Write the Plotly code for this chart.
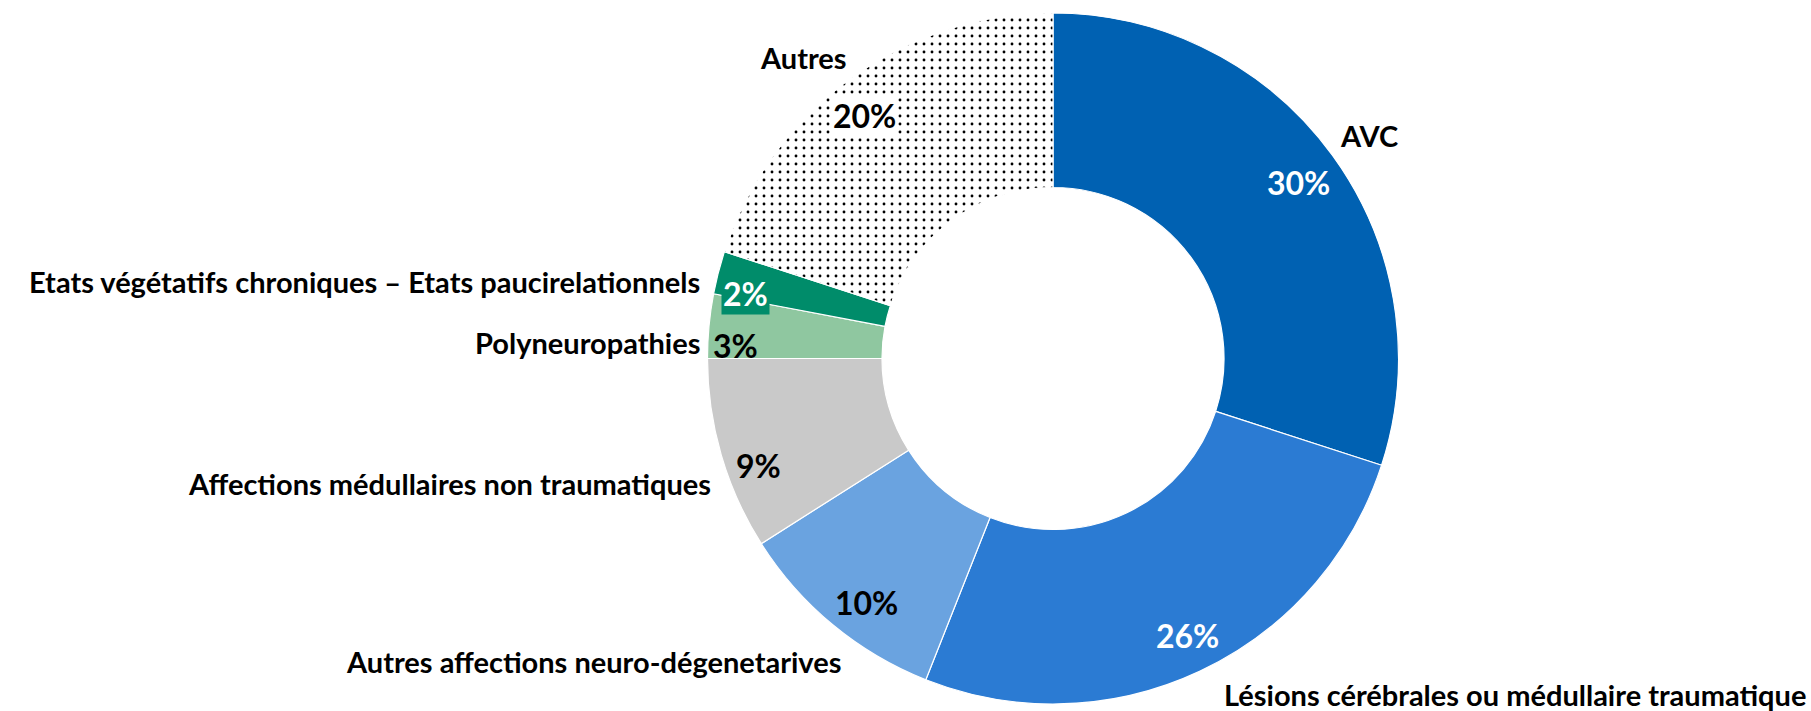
import plotly.graph_objects as go

# ---- data ----
categories = [
    "AVC",
    "Lésions cérébrales ou médullaire traumatique",
    "Autres affections neuro-dégenetarives",
    "Affections médullaires non traumatiques",
    "Polyneuropathies",
    "Etats végétatifs chroniques – Etats paucirelationnels",
    "Autres",
]
values = [30, 26, 10, 9, 3, 2, 20]

# ---- style ----
colors = ["#0061B2", "#2B7BD3", "#6AA3E0", "#C9C9C9", "#8FC7A0", "#008C6A", "#FFFFFF"]
pattern_shapes = ["", "", "", "", "", "", "."]
pct_colors = ["white", "white", "black", "black", "black", "white", "black"]
pct_bg = [None, None, None, None, None, "#008C6A", "white"]

W, H = 1811, 711
FONT = "Lato"

# label positions (pixels) and anchors
name_pos = [(1369, 136, "center"), (1808, 694, "right"), (843, 661, "right"),
            (713, 483, "right"), (702, 342, "right"), (702, 281, "right"), (803, 58, "center")]
pct_pos = [(1298, 182), (1187, 635), (866, 602), (758, 465), (735, 345), (745, 293), (864, 116)]

cx, cy, r = 1053, 358.5, 345.5

fig = go.Figure(go.Pie(
    labels=categories,
    values=values,
    hole=0.495,
    sort=False,
    direction="clockwise",
    rotation=0,
    textinfo="none",
    hoverinfo="label+percent",
    marker=dict(
        colors=colors,
        line=dict(color="white", width=1.2),
        pattern=dict(shape=pattern_shapes, fgcolor="black", bgcolor="white",
                     size=8, solidity=0.1, fillmode="replace"),
    ),
    domain=dict(x=[(cx - r) / W, (cx + r) / W], y=[1 - (cy + r) / H, 1 - (cy - r) / H]),
    showlegend=False,
))

total = sum(values)
annotations = []
for cat, v, (nx, ny, anc), (px, py), pc, pb in zip(categories, values, name_pos, pct_pos, pct_colors, pct_bg):
    annotations.append(dict(
        x=nx / W, y=1 - ny / H, xref="paper", yref="paper", text=f"<b>{cat}</b>",
        showarrow=False, xanchor=anc, yanchor="middle",
        font=dict(family=FONT, size=29, color="black"),
    ))
    a = dict(
        x=px / W, y=1 - py / H, xref="paper", yref="paper",
        text=f"<b>{round(100 * v / total)}%</b>",
        showarrow=False, xanchor="center", yanchor="middle",
        font=dict(family=FONT, size=32, color=pc), borderpad=1,
    )
    if pb:
        a["bgcolor"] = pb
    annotations.append(a)

fig.update_layout(
    width=W, height=H,
    margin=dict(l=0, r=0, t=0, b=0),
    paper_bgcolor="white", plot_bgcolor="white",
    annotations=annotations,
    font=dict(family=FONT),
)

fig.write_html("out.html", config={"displayModeBar": False},
               post_script="document.body.style.margin='0';")
